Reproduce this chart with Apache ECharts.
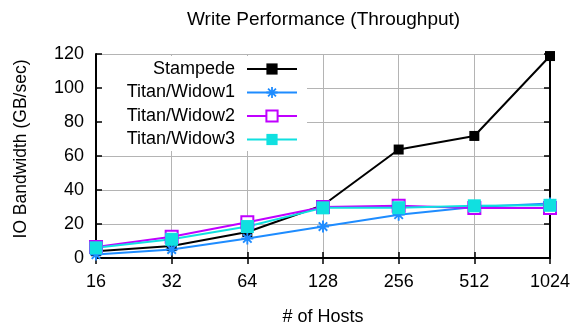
<!DOCTYPE html>
<html>
<head>
<meta charset="utf-8">
<script src="https://cdn.jsdelivr.net/npm/echarts@6/dist/echarts.min.js"></script>
<style>html,body{margin:0;padding:0;background:#fff}#c{width:574px;height:323px}</style>
</head>
<body>
<div id="c"></div>
<script>
const hosts = ['16', '32', '64', '128', '256', '512', '1024'];
const stampede = [4, 7, 15.3, 31, 63.8, 71.8, 118.8];
const widow1 = [2, 5, 11.5, 18.5, 25.5, 30, 32];
const widow2 = [6.5, 12.5, 21, 30, 30.8, 29.4, 29.4];
const widow3 = [6, 11, 18.5, 29.5, 29.6, 30.7, 31];
const yTicks = { min: 0, max: 120, interval: 20 };

const FONT = 'Liberation Sans, Arial, sans-serif';
const asterisk = 'path://M-5,-0.8L5,-0.8L5,0.8L-5,0.8Z' +
  'M-0.8,-5L0.8,-5L0.8,5L-0.8,5Z' +
  'M-2.97,-4.10L4.10,2.97L2.97,4.10L-4.10,-2.97Z' +
  'M-4.10,2.97L2.97,-4.10L4.10,-2.97L-2.97,4.10Z';

const chart = echarts.init(document.getElementById('c'), null, { renderer: 'canvas' });
const frameAxis = {
  axisLine: { show: true, lineStyle: { color: '#000', width: 2 } },
  axisTick: { show: true, inside: true, length: 6, lineStyle: { color: '#000', width: 1.5 } },
};
chart.setOption({
  animation: false,
  backgroundColor: '#fff',
  textStyle: { fontFamily: FONT },
  title: {
    text: 'Write Performance (Throughput)',
    left: 182, top: 5,
    textStyle: { fontFamily: FONT, fontSize: 19, fontWeight: 'normal', color: '#000' }
  },
  grid: { left: 96, right: 24, top: 54, bottom: 65, containLabel: false, outerBoundsMode: 'none' },
  graphic: [{
    type: 'rect', z: 1,
    shape: { x: 98, y: 56, width: 209, height: 95 },
    style: { fill: '#fff' }
  }],
  legend: {
    orient: 'vertical', align: 'right',
    right: 276, top: 60, padding: 0,
    itemWidth: 50, itemHeight: 14, itemGap: 5.5,
    textStyle: { fontFamily: FONT, fontSize: 18, color: '#000', padding: [0, 7, 0, 0] },
    data: ['Stampede', 'Titan/Widow1', 'Titan/Widow2', 'Titan/Widow3']
  },
  xAxis: [
    Object.assign({
      type: 'category', data: hosts, boundaryGap: false, position: 'bottom', z: 3,
      axisLabel: { fontFamily: FONT, fontSize: 18, color: '#000', margin: 15 },
      splitLine: { show: false },
      name: '# of Hosts', nameLocation: 'middle', nameGap: 50,
      nameTextStyle: { fontFamily: FONT, fontSize: 18, color: '#000' }
    }, frameAxis),
    Object.assign({
      type: 'category', data: hosts, boundaryGap: false, position: 'top', z: 3,
      axisLabel: { show: false }, splitLine: { show: false }
    }, frameAxis),
    {
      type: 'category', data: hosts, boundaryGap: false, position: 'bottom', z: 0,
      axisLine: { show: false }, axisTick: { show: false }, axisLabel: { show: false },
      splitLine: { show: true, lineStyle: { color: '#b4b4b4', width: 1 } }
    }
  ],
  yAxis: [
    Object.assign({
      type: 'value', min: yTicks.min, max: yTicks.max, interval: yTicks.interval, position: 'left', z: 3,
      axisLabel: { fontFamily: FONT, fontSize: 18, color: '#000', margin: 12 },
      splitLine: { show: false },
      name: 'IO Bandwidth (GB/sec)', nameLocation: 'middle', nameGap: 66,
      nameTextStyle: { fontFamily: FONT, fontSize: 17.5, color: '#000', padding: [0, 0, 0, 14] }
    }, frameAxis),
    Object.assign({
      type: 'value', min: yTicks.min, max: yTicks.max, interval: yTicks.interval, position: 'right', z: 3,
      axisLabel: { show: false }, splitLine: { show: false }
    }, frameAxis),
    {
      type: 'value', min: yTicks.min, max: yTicks.max, interval: yTicks.interval, position: 'left', z: 0,
      axisLine: { show: false }, axisTick: { show: false }, axisLabel: { show: false },
      splitLine: { show: true, lineStyle: { color: '#b4b4b4', width: 1 } }
    }
  ],
  series: [
    {
      name: 'Stampede', type: 'line', data: stampede, z: 4,
      symbol: 'rect', symbolSize: 10,
      lineStyle: { color: '#000', width: 2 }, itemStyle: { color: '#000' }
    },
    {
      name: 'Titan/Widow1', type: 'line', data: widow1, z: 4,
      symbol: asterisk, symbolSize: 12,
      lineStyle: { color: '#1e8cff', width: 2 }, itemStyle: { color: '#1e8cff', borderWidth: 0 }
    },
    {
      name: 'Titan/Widow2', type: 'line', data: widow2, z: 4,
      symbol: 'emptyRect', symbolSize: 12,
      lineStyle: { color: '#c000ff', width: 2 }, itemStyle: { color: '#c000ff', borderWidth: 2 }
    },
    {
      name: 'Titan/Widow3', type: 'line', data: widow3, z: 4,
      symbol: 'rect', symbolSize: 13,
      lineStyle: { color: '#10e0e0', width: 2 }, itemStyle: { color: '#10e0e0' }
    }
  ]
});
</script>
</body>
</html>
